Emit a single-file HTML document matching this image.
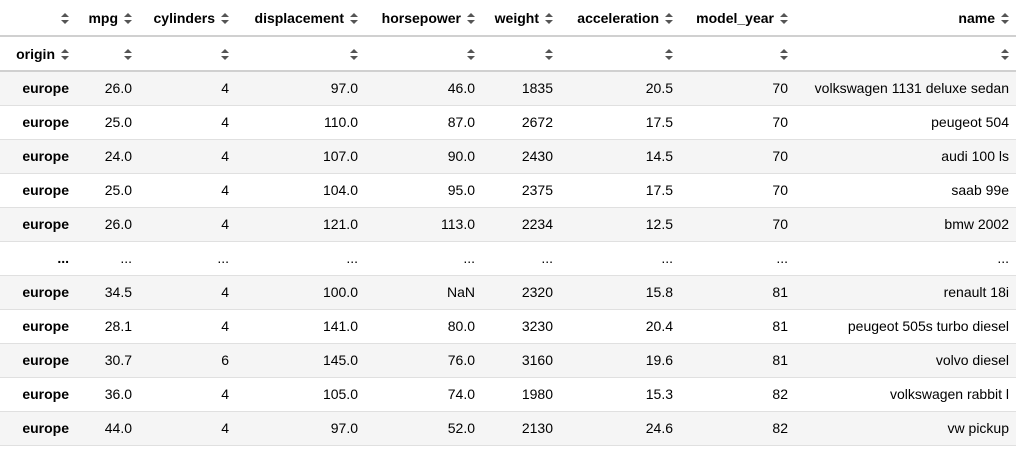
<!DOCTYPE html>
<html><head><meta charset="utf-8">
<style>
body{margin:0;background:#fff;width:1026px;height:453px;overflow:hidden;font-family:"Liberation Sans",Arial,sans-serif;font-size:14px;color:#000}
table{position:absolute;left:0;top:0;border-collapse:collapse;table-layout:fixed;width:1016px}
td,th{text-align:right;padding:0 10px 0 0;white-space:nowrap;overflow:visible;box-sizing:border-box}
td:last-child,th:last-child{padding-right:7px}
th{font-weight:bold}
thead tr.h1 th{height:36px;border-bottom:2px solid #d0d0d0}
thead tr.h2 th{height:35px;border-bottom:2px solid #d0d0d0}
tbody td,tbody th{height:34px;border-bottom:1px solid #e0e0e0}
tbody tr:nth-child(odd){background:#f5f5f5}
.s{display:inline-block;width:8px;height:11px;margin-left:6px;vertical-align:-1px}
</style></head><body>
<table>
<colgroup><col style="width:79px"><col style="width:63px"><col style="width:97px"><col style="width:129px"><col style="width:117px"><col style="width:78px"><col style="width:120px"><col style="width:115px"><col style="width:218px"></colgroup>
<thead>
<tr class="h1">
<th><svg class="s" viewBox="0 0 8 11"><path d="M4 0L8 4H0Z M4 11L8 7H0Z" fill="#555"/></svg></th>
<th>mpg<svg class="s" viewBox="0 0 8 11"><path d="M4 0L8 4H0Z M4 11L8 7H0Z" fill="#555"/></svg></th>
<th>cylinders<svg class="s" viewBox="0 0 8 11"><path d="M4 0L8 4H0Z M4 11L8 7H0Z" fill="#555"/></svg></th>
<th>displacement<svg class="s" viewBox="0 0 8 11"><path d="M4 0L8 4H0Z M4 11L8 7H0Z" fill="#555"/></svg></th>
<th>horsepower<svg class="s" viewBox="0 0 8 11"><path d="M4 0L8 4H0Z M4 11L8 7H0Z" fill="#555"/></svg></th>
<th>weight<svg class="s" viewBox="0 0 8 11"><path d="M4 0L8 4H0Z M4 11L8 7H0Z" fill="#555"/></svg></th>
<th>acceleration<svg class="s" viewBox="0 0 8 11"><path d="M4 0L8 4H0Z M4 11L8 7H0Z" fill="#555"/></svg></th>
<th>model_year<svg class="s" viewBox="0 0 8 11"><path d="M4 0L8 4H0Z M4 11L8 7H0Z" fill="#555"/></svg></th>
<th>name<svg class="s" viewBox="0 0 8 11"><path d="M4 0L8 4H0Z M4 11L8 7H0Z" fill="#555"/></svg></th>
</tr>
<tr class="h2">
<th>origin<svg class="s" viewBox="0 0 8 11"><path d="M4 0L8 4H0Z M4 11L8 7H0Z" fill="#555"/></svg></th>
<th><svg class="s" viewBox="0 0 8 11"><path d="M4 0L8 4H0Z M4 11L8 7H0Z" fill="#555"/></svg></th>
<th><svg class="s" viewBox="0 0 8 11"><path d="M4 0L8 4H0Z M4 11L8 7H0Z" fill="#555"/></svg></th>
<th><svg class="s" viewBox="0 0 8 11"><path d="M4 0L8 4H0Z M4 11L8 7H0Z" fill="#555"/></svg></th>
<th><svg class="s" viewBox="0 0 8 11"><path d="M4 0L8 4H0Z M4 11L8 7H0Z" fill="#555"/></svg></th>
<th><svg class="s" viewBox="0 0 8 11"><path d="M4 0L8 4H0Z M4 11L8 7H0Z" fill="#555"/></svg></th>
<th><svg class="s" viewBox="0 0 8 11"><path d="M4 0L8 4H0Z M4 11L8 7H0Z" fill="#555"/></svg></th>
<th><svg class="s" viewBox="0 0 8 11"><path d="M4 0L8 4H0Z M4 11L8 7H0Z" fill="#555"/></svg></th>
<th><svg class="s" viewBox="0 0 8 11"><path d="M4 0L8 4H0Z M4 11L8 7H0Z" fill="#555"/></svg></th>
</tr>
</thead>
<tbody>
<tr><th>europe</th><td>26.0</td><td>4</td><td>97.0</td><td>46.0</td><td>1835</td><td>20.5</td><td>70</td><td>volkswagen 1131 deluxe sedan</td></tr>
<tr><th>europe</th><td>25.0</td><td>4</td><td>110.0</td><td>87.0</td><td>2672</td><td>17.5</td><td>70</td><td>peugeot 504</td></tr>
<tr><th>europe</th><td>24.0</td><td>4</td><td>107.0</td><td>90.0</td><td>2430</td><td>14.5</td><td>70</td><td>audi 100 ls</td></tr>
<tr><th>europe</th><td>25.0</td><td>4</td><td>104.0</td><td>95.0</td><td>2375</td><td>17.5</td><td>70</td><td>saab 99e</td></tr>
<tr><th>europe</th><td>26.0</td><td>4</td><td>121.0</td><td>113.0</td><td>2234</td><td>12.5</td><td>70</td><td>bmw 2002</td></tr>
<tr><th>...</th><td>...</td><td>...</td><td>...</td><td>...</td><td>...</td><td>...</td><td>...</td><td>...</td></tr>
<tr><th>europe</th><td>34.5</td><td>4</td><td>100.0</td><td>NaN</td><td>2320</td><td>15.8</td><td>81</td><td>renault 18i</td></tr>
<tr><th>europe</th><td>28.1</td><td>4</td><td>141.0</td><td>80.0</td><td>3230</td><td>20.4</td><td>81</td><td>peugeot 505s turbo diesel</td></tr>
<tr><th>europe</th><td>30.7</td><td>6</td><td>145.0</td><td>76.0</td><td>3160</td><td>19.6</td><td>81</td><td>volvo diesel</td></tr>
<tr><th>europe</th><td>36.0</td><td>4</td><td>105.0</td><td>74.0</td><td>1980</td><td>15.3</td><td>82</td><td>volkswagen rabbit l</td></tr>
<tr><th>europe</th><td>44.0</td><td>4</td><td>97.0</td><td>52.0</td><td>2130</td><td>24.6</td><td>82</td><td>vw pickup</td></tr>
</tbody>
</table>
</body></html>
